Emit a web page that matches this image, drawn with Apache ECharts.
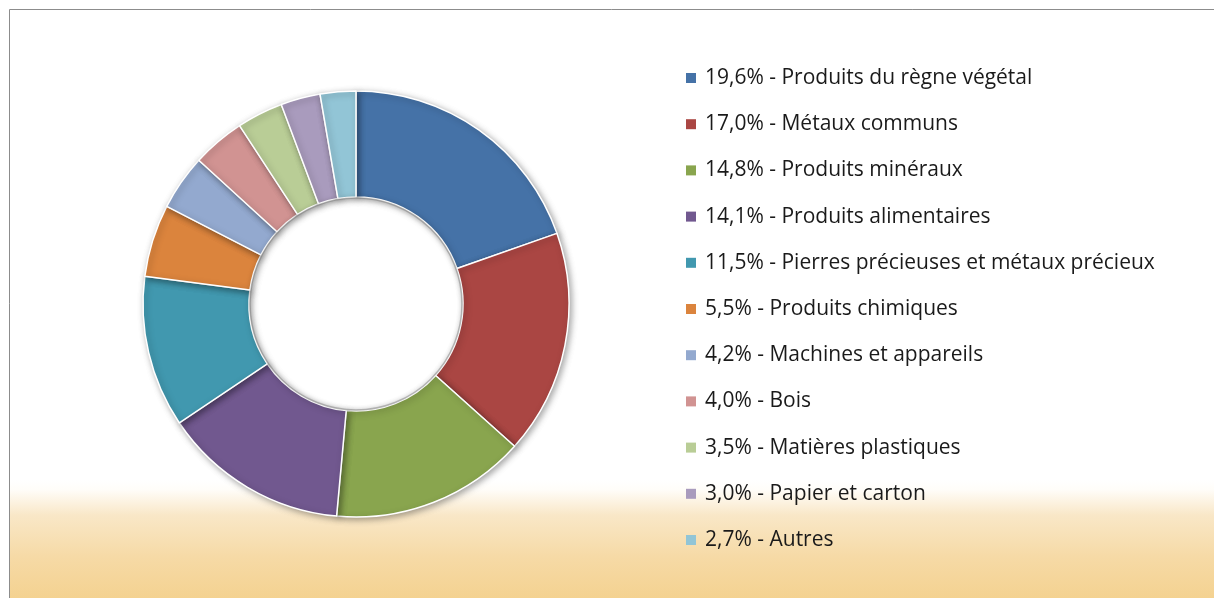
<!DOCTYPE html>
<html>
<head>
<meta charset="utf-8">
<script src="https://cdn.jsdelivr.net/npm/echarts@6/dist/echarts.min.js"></script>
<style>
  html, body { margin: 0; padding: 0; background: #fff; }
  #chart { width: 1214px; height: 598px; }
</style>
</head>
<body>
<div id="chart"></div>
<script>
// secteurs et parts (%)
const categories = [
  "Produits du règne végétal",
  "Métaux communs",
  "Produits minéraux",
  "Produits alimentaires",
  "Pierres précieuses et métaux précieux",
  "Produits chimiques",
  "Machines et appareils",
  "Bois",
  "Matières plastiques",
  "Papier et carton",
  "Autres"
];
const shares = [19.6, 17.0, 14.8, 14.1, 11.5, 5.5, 4.2, 4.0, 3.5, 3.0, 2.7];
const colors = [
  "#4572a7", "#aa4643", "#89a54e", "#71588f", "#4198af", "#db843d",
  "#93a9cf", "#d19392", "#b9cd96", "#a99bbd", "#92c5d6"
];

const chart = echarts.init(document.getElementById("chart"), null, { renderer: "canvas" });

// libellé du type "19,6% - Produits du règne végétal"
const labelOf = (v, name) => v.toFixed(1).replace(".", ",") + "% - " + name;

const data = categories.map((name, i) => ({
  name: labelOf(shares[i], name),
  value: shares[i],
  itemStyle: { color: colors[i] }
}));

const option = {
  animation: false,
  backgroundColor: "#ffffff",
  graphic: [
    {
      // fond dégradé en bas
      type: "rect",
      z: -10,
      shape: { x: 9, y: 480, width: 1205, height: 118 },
      style: {
        fill: new echarts.graphic.LinearGradient(0, 0, 0, 1, [
          { offset: 0, color: "rgba(255,255,255,1)" },
          { offset: 0.08, color: "#fffdf9" },
          { offset: 0.3, color: "#f9e7c7" },
          { offset: 0.65, color: "#f6daa6" },
          { offset: 1, color: "#f4d291" }
        ])
      }
    },
    {
      // cadre
      type: "polyline",
      z: -5,
      shape: { points: [[9.5, 598], [9.5, 9.5], [1214, 9.5]] },
      style: { stroke: "#8c8c8c", lineWidth: 1, fill: null }
    },
    {
      // ombre intérieure du trou
      type: "circle",
      z: 10,
      shape: { cx: 356, cy: 304, r: 106 },
      style: {
        fill: null,
        stroke: "rgba(120,120,120,0.45)",
        lineWidth: 1.5,
        shadowBlur: 4,
        shadowColor: "rgba(0,0,0,0.35)"
      }
    }
  ],
  legend: {
    orient: "vertical",
    left: 686,
    top: 67,
    padding: 0,
    itemWidth: 10,
    itemHeight: 10,
    itemGap: 24.2,
    icon: "rect",
    itemStyle: { borderWidth: 0, shadowBlur: 0, shadowOffsetX: 0, shadowOffsetY: 0 },
    textStyle: {
      fontFamily: "Open Sans",
      fontSize: 21,
      lineHeight: 22,
      color: "#1a1a1a",
      padding: [0, 0, 0, 4]
    }
  },
  series: [
    {
      type: "pie",
      radius: [107, 213],
      center: [356, 304],
      startAngle: 90,
      clockwise: true,
      silent: true,
      label: { show: false },
      labelLine: { show: false },
      itemStyle: {
        borderColor: "#ffffff",
        borderWidth: 1.5,
        shadowBlur: 6,
        shadowOffsetX: 2,
        shadowOffsetY: 2,
        shadowColor: "rgba(0,0,0,0.35)"
      },
      data: data
    }
  ]
};

chart.setOption(option);
</script>
</body>
</html>
